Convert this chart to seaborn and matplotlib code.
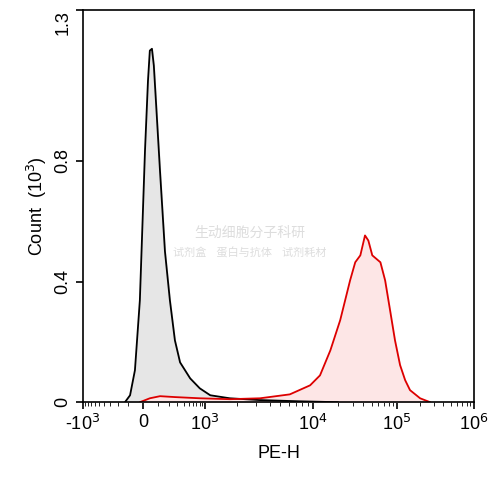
import numpy as np
import matplotlib
matplotlib.use("Agg")
import matplotlib.pyplot as plt
import seaborn as sns
import pandas as pd
from matplotlib.scale import FuncScale

sns.set_style("ticks")
plt.rcParams['font.family'] = ['Liberation Sans', 'Noto Sans CJK SC', 'DejaVu Sans']
for k in ("text.color", "axes.labelcolor", "xtick.color", "ytick.color", "axes.edgecolor"):
    plt.rcParams[k] = "black"

ctrl_x = [-129, -88, -53, -20, 13, 32, 44, 58, 71, 86, 117, 159, 208, 267, 340, 533, 806, 1125, 1710, 3260, 7600, 20000]
ctrl_y = [0.0, 0.023, 0.106, 0.338, 0.834, 1.066, 1.166, 1.172, 1.116, 0.997, 0.765, 0.50, 0.338, 0.205, 0.132, 0.079, 0.046, 0.023, 0.013, 0.007, 0.003, 0.0]
pe_x = [-20, 44, 117, 267, 806, 1710, 3260, 6150, 9470, 12200, 16200, 21200, 27800, 32000, 36800, 41800, 45800, 51000, 63700, 72500, 83000, 95000, 110000, 128000, 148000, 200000, 270000]
pe_y = [0.0, 0.013, 0.02, 0.017, 0.013, 0.01, 0.013, 0.026, 0.056, 0.089, 0.172, 0.272, 0.404, 0.464, 0.487, 0.553, 0.536, 0.487, 0.464, 0.404, 0.305, 0.205, 0.123, 0.073, 0.040, 0.013, 0.0]

us = np.array([-2.6, 0, 2.6, 4.9, 7.2, 9.5])
px = np.array([83, 143, 205, 313, 397, 474], float)
def fwd(x):
    return np.interp(np.arcsinh(np.asarray(x, float) / 150), us, px)
def inv(p):
    return 150 * np.sinh(np.interp(np.asarray(p, float), px, us))

fig = plt.figure(figsize=(5, 4.84), dpi=100)
ax = fig.add_axes([0.166, 0.169, 0.782, 0.81])
ax.set_xscale(FuncScale(ax, (fwd, inv)))
df1 = pd.DataFrame({"x": ctrl_x, "y": ctrl_y})
df2 = pd.DataFrame({"x": pe_x, "y": pe_y})
ax.fill_between(df1.x, df1.y, color="#e6e6e6", zorder=1)
ax.fill_between(df2.x, df2.y, color="#fde6e6", zorder=1)
sns.lineplot(data=df1, x="x", y="y", color="black", lw=1.3, ax=ax, estimator=None, sort=False)
sns.lineplot(data=df2, x="x", y="y", color="#dd0000", lw=1.3, ax=ax, estimator=None, sort=False)

ax.set_xlim(-1000, 1e6)
ax.set_ylim(0, 1.3)
ax.set_xticks([-1000, 0, 1000, 1e4, 1e5, 1e6])
ax.set_xticklabels([r"-10$^3$", "0", r"10$^3$", r"10$^4$", r"10$^5$", r"10$^6$"], fontsize=13)
minors = list(range(-900, 1000, 100)) + [m * 10**d for d in (3, 4, 5) for m in range(2, 10)]
ax.set_xticks(minors, minor=True)
ax.set_yticks([0, 0.4, 0.8, 1.3])
ax.set_yticklabels(["0", "0.4", "0.8", "1.3"], fontsize=13, rotation=90, va="center")
ax.get_yticklabels()[-1].set_va("top")
ax.tick_params(axis="both", which="major", length=5, width=1.2)
ax.tick_params(axis="x", which="minor", length=3)
for s in ax.spines.values():
    s.set_linewidth(1.2)
ax.set_xlabel("PE-H", fontsize=13, labelpad=8)
ax.set_ylabel(r"Count  (10$^3$)", fontsize=13)
fig.text(0.50, 0.51, "生动细胞分子科研", color="#dddddd", fontsize=10, ha="center", family=['Noto Sans CJK SC'])
fig.text(0.50, 0.47, "试剂盒    蛋白与抗体    试剂耗材", color="#dddddd", fontsize=8, ha="center", family=['Noto Sans CJK SC'])
fig.savefig("out.png", dpi=100)
